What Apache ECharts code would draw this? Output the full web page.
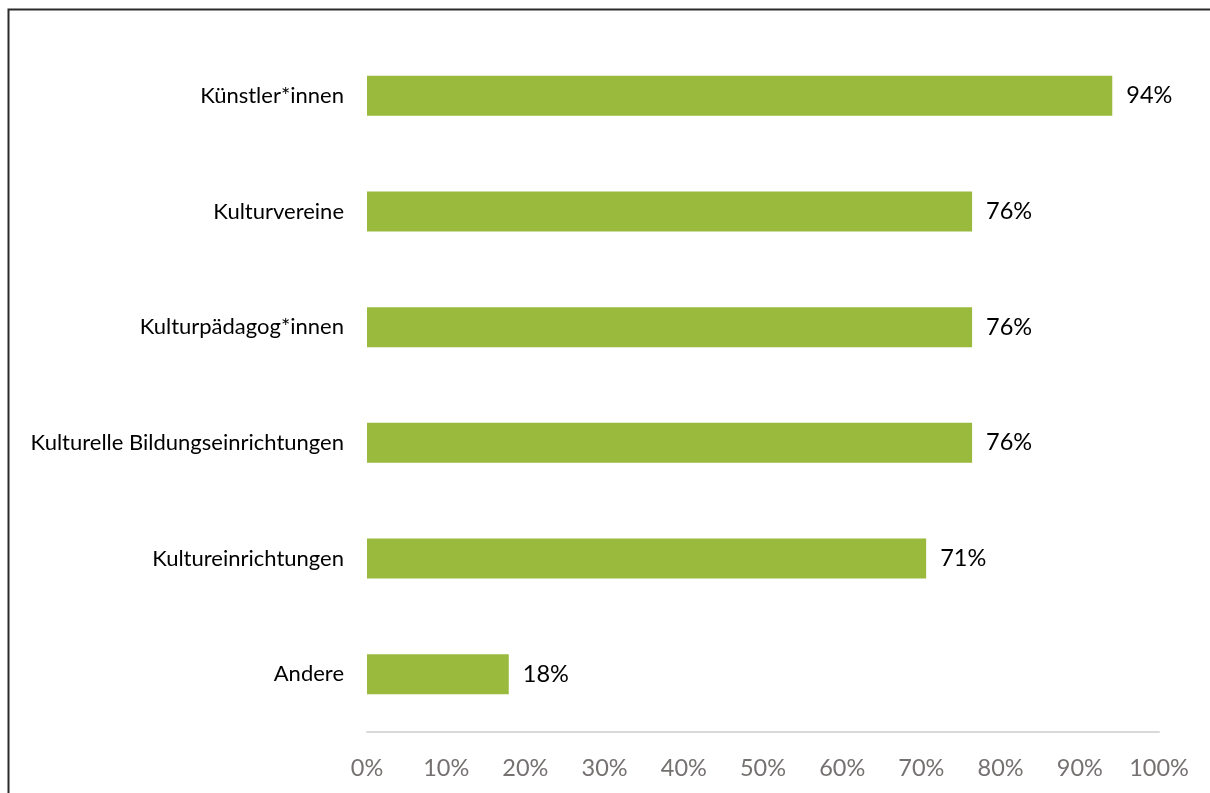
<!DOCTYPE html>
<html>
<head>
<meta charset="utf-8">
<script src="https://cdn.jsdelivr.net/npm/echarts@6/dist/echarts.min.js"></script>
<style>html,body{margin:0;padding:0;background:#fff}#c{width:1210px;height:793px}</style>
</head>
<body>
<div id="c"></div>
<script>
const categories = ["Künstler*innen", "Kulturvereine", "Kulturpädagog*innen", "Kulturelle Bildungseinrichtungen", "Kultureinrichtungen", "Andere"];
const values = [94.1, 76.4, 76.4, 76.4, 70.6, 17.9];
const tickLabels = ["0%", "10%", "20%", "30%", "40%", "50%", "60%", "70%", "80%", "90%", "100%"];

const chart = echarts.init(document.getElementById('c'));
const font = 'Lato, "Noto Sans", sans-serif';
chart.setOption({
  animation: false,
  grid: { left: 367, right: 51, top: 38, bottom: 61, containLabel: false },
  graphic: [
    { type: 'polyline', shape: { points: [[8.5, 793], [8.5, 9.5], [1210, 9.5]] }, style: { stroke: '#2b2b2b', lineWidth: 2, fill: null } }
  ],
  xAxis: {
    type: 'value', min: 0, max: 100, interval: 10,
    axisLine: { show: true, lineStyle: { color: '#d9d9d9', width: 2 } },
    axisTick: { show: false }, splitLine: { show: false },
    axisLabel: { color: '#767171', fontSize: 23.5, fontFamily: font, margin: 24,
      formatter: (v) => tickLabels[Math.round(v / 10)] }
  },
  yAxis: {
    type: 'category', data: categories, inverse: true,
    axisLine: { show: false },
    axisTick: { show: false },
    axisLabel: { color: '#000', fontSize: 22, fontFamily: font, margin: 23 }
  },
  series: [{
    type: 'bar', data: values, barWidth: 40,
    itemStyle: { color: '#9aba3e' },
    label: { show: true, position: 'right', distance: 14, formatter: (p) => Math.round(p.value) + '%', color: '#000', fontSize: 23.5, fontFamily: font }
  }]
});
</script>
</body>
</html>
